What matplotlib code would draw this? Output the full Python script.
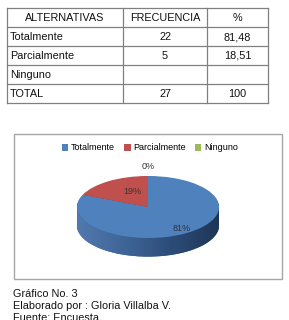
import matplotlib
matplotlib.use("Agg")
import matplotlib.pyplot as plt
from matplotlib.patches import Rectangle, Polygon
from matplotlib.colors import LinearSegmentedColormap
import numpy as np

plt.rcParams['font.family'] = ['Liberation Sans', 'DejaVu Sans']

# ---- data ----
headers = ["ALTERNATIVAS", "FRECUENCIA", "%"]
categories = ["Totalmente", "Parcialmente", "Ninguno"]
frecuencia = [22, 5, 0]
porcentaje = ["81,48", "18,51", ""]
total_row = ["TOTAL", "27", "100"]
footer = ["Gráfico No. 3", "Elaborado por : Gloria Villalba V.", "Fuente: Encuesta"]

colors = ["#4F81BD", "#C0504D", "#9BBB59"]
side_colors = ["#34598A", "#8E3A38", "#76903F"]

W, H = 289, 320
fig = plt.figure(figsize=(W / 100, H / 100), dpi=100)

bg = fig.add_axes([0, 0, 1, 1])
bg.set_xlim(0, W)
bg.set_ylim(H, 0)
bg.axis('off')

# ---- table ----
col_x = [7, 123, 207, 268]
row_y = [8, 27, 46, 65, 84, 103]
lc = "#808080"
for x in col_x:
    bg.plot([x, x], [row_y[0], row_y[-1]], color=lc, lw=0.9)
for y in row_y:
    bg.plot([col_x[0], col_x[-1]], [y, y], color=lc, lw=0.9)

rows = [headers]
for c, f, p in zip(categories, frecuencia, porcentaje):
    rows.append([c, str(f) if f else "", p])
rows.append(total_row)

fs = 7.8
for i, row in enumerate(rows):
    yc = (row_y[i] + row_y[i + 1]) / 2 + 0.5
    for j, txt in enumerate(row):
        if i == 0 or j > 0:
            xc = (col_x[j] + col_x[j + 1]) / 2
            bg.text(xc, yc, txt, ha='center', va='center', fontsize=fs, color='#111111')
        else:
            bg.text(col_x[0] + 3, yc, txt, ha='left', va='center', fontsize=fs, color='#111111')

# ---- chart box ----
bg.add_patch(Rectangle((14, 134), 282 - 14, 279 - 134, fill=False, edgecolor='#A6A6A6', lw=1.0))

# ---- footer ----
for k, t in enumerate(footer):
    bg.text(13, 294 + k * 12, t, ha='left', va='center', fontsize=7.8, color='#111111')

# ---- pie ----
cx, cy, rx, ry = 148, 207, 71, 31
xl = (-1.2, 1.2)
yl = (-1.8, 1.4)
left = cx + xl[0] * rx
right = cx + xl[1] * rx
top = cy - yl[1] * ry
bottom = cy - yl[0] * ry
pax = fig.add_axes([left / W, 1 - bottom / H, (right - left) / W, (bottom - top) / H])

depth = 0.6
for d in np.linspace(depth, 0.02, 30):
    pax.pie(frecuencia, colors=side_colors, startangle=90, counterclock=False,
            center=(0, -d), radius=1, frame=True,
            wedgeprops=dict(linewidth=0))

# gradient shading on the visible side of the cylinder
t = np.linspace(np.pi, 2 * np.pi, 100)
side_pts = np.concatenate([np.c_[np.cos(t), np.sin(t)],
                           np.c_[np.cos(t[::-1]), np.sin(t[::-1]) - depth]])
clip = Polygon(side_pts, closed=True, facecolor='none', edgecolor='none', transform=pax.transData)
pax.add_patch(clip)
grad_cmap = LinearSegmentedColormap.from_list("side", ["#5279AE", "#3F6598", "#2C4C78", "#1E3656"])
gx = np.linspace(0, 1, 256)[None, :]
img = pax.imshow(gx, extent=(-1, 1, -1 - depth, 0.05), cmap=grad_cmap, aspect='auto',
                 zorder=2, interpolation='bilinear')
img.set_clip_path(clip)

wedges, _ = pax.pie(frecuencia, colors=colors, startangle=90, counterclock=False,
                    center=(0, 0), radius=1, frame=True,
                    wedgeprops=dict(linewidth=0, zorder=3))
pax.set_aspect('auto')
pax.set_xlim(*xl)
pax.set_ylim(*yl)
pax.axis('off')

total = sum(frecuencia)
dists = [0.8, 0.62, 1.3]
shifts = [(0.03, -0.02), (0.12, -0.02), (0, 0)]
for w, v, d, s in zip(wedges, frecuencia, dists, shifts):
    ang = np.deg2rad((w.theta1 + w.theta2) / 2)
    pax.text(d * np.cos(ang) + s[0], d * np.sin(ang) + s[1], f"{round(v / total * 100)}%",
             ha='center', va='center', fontsize=6.5, color='#333333', zorder=5)

leg = fig.legend(wedges, categories, loc='center', bbox_to_anchor=(150 / W, 1 - 148 / H),
                 ncol=3, frameon=False, fontsize=6.5, handlelength=0.7, handleheight=0.7,
                 handletextpad=0.3, columnspacing=1.0, borderpad=0)

fig.savefig("out.png", dpi=100)
